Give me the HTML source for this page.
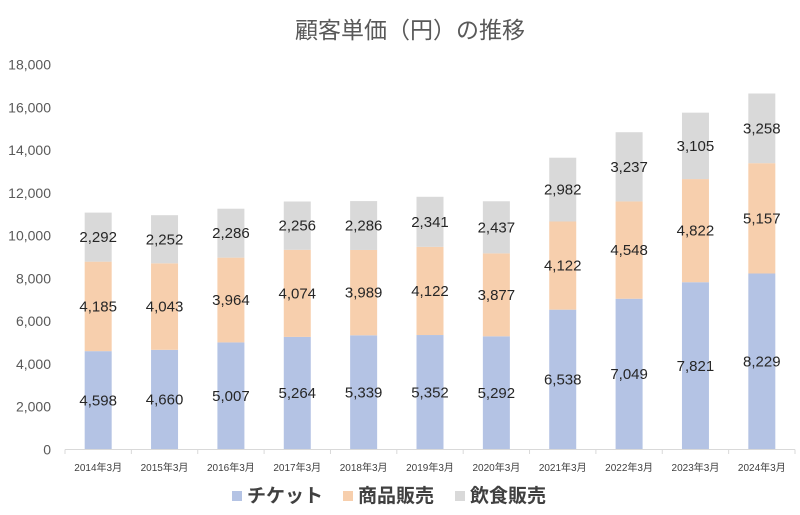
<!DOCTYPE html>
<html><head><meta charset="utf-8"><style>body{margin:0;background:#fff}svg{display:block}</style></head><body>
<svg width="800" height="515" xmlns="http://www.w3.org/2000/svg" font-family="Liberation Sans, Noto Sans CJK JP, sans-serif">
<text x="410" y="38" text-anchor="middle" font-size="23" fill="#595959" font-family="Noto Sans CJK JP, sans-serif">顧客単価（円）の推移</text>
<g id="y" font-size="14" fill="#595959" text-anchor="end"></g>
<g id="b"></g>
<line x1="65" y1="449.5" x2="795" y2="449.5" stroke="#d9d9d9"/>
<g id="t" stroke="#d9d9d9"></g>
<g font-size="19" font-weight="bold" fill="#404040" font-family="Noto Sans CJK JP, sans-serif">
<rect x="232" y="491" width="10" height="10" fill="#b4c3e4"/><text x="247" y="502">チケット</text>
<rect x="343" y="491" width="10" height="10" fill="#f7cfad"/><text x="358" y="502">商品販売</text>
<rect x="455" y="491" width="10" height="10" fill="#d9d9d9"/><text x="470" y="502">飲食販売</text>
</g>
<script>
(function(){
var ns="http://www.w3.org/2000/svg";
function el(p,t,a,txt){var e=document.createElementNS(ns,t);for(var k in a)e.setAttribute(k,a[k]);if(txt!=null)e.textContent=txt;p.appendChild(e);return e;}
var y0=449.5,s=385/18000;
var Y=document.getElementById('y');
for(var v=0;v<=18000;v+=2000){el(Y,'text',{x:51,y:y0-v*s+5},v.toLocaleString('en-US'));}
var d=[[4598,4185,2292],[4660,4043,2252],[5007,3964,2286],[5264,4074,2256],[5339,3989,2286],[5352,4122,2341],[5292,3877,2437],[6538,4122,2982],[7049,4548,3237],[7821,4822,3105],[8229,5157,3258]];
var c=['#b4c3e4','#f7cfad','#d9d9d9'];
var B=document.getElementById('b'),T=document.getElementById('t');
var w=730/11;
for(var i=0;i<11;i++){var cx=65+w/2+w*i,acc=0;
for(var j=0;j<3;j++){var val=d[i][j],tp=y0-(acc+val)*s,h=val*s;
el(B,'rect',{x:cx-13.5,y:tp,width:27,height:h,fill:c[j]});
el(B,'text',{x:cx,y:tp+h/2+5,'text-anchor':'middle','font-size':15,fill:'#262626'},val.toLocaleString('en-US'));acc+=val;}
el(B,'text',{x:cx,y:471,'text-anchor':'middle','font-size':10,fill:'#404040'},(2014+i)+'年3月');
el(T,'line',{x1:65+w*i,y1:449.5,x2:65+w*i,y2:454});}
el(T,'line',{x1:795,y1:449.5,x2:795,y2:454});
})();
</script>
</svg>
</body></html>
